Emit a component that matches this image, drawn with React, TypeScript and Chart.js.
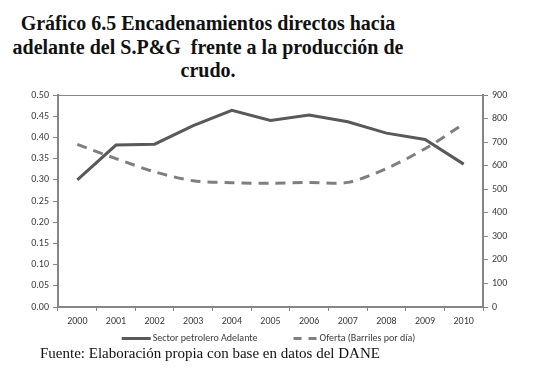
import React, { useEffect, useRef } from "react";
import { Chart, registerables } from "chart.js";

Chart.register(...registerables);

const years = ["2000", "2001", "2002", "2003", "2004", "2005", "2006", "2007", "2008", "2009", "2010"];
const sectorAdelante = [0.3, 0.382, 0.384, 0.428, 0.464, 0.44, 0.453, 0.437, 0.41, 0.395, 0.337];
const ofertaBarriles = [690, 630, 574, 536, 528, 525, 529, 529, 588, 672, 777];
const seriesNames = ["Sector petrolero Adelante", "Oferta (Barriles por día)"];
const titleLines = ["Gráfico 6.5 Encadenamientos directos hacia", "adelante del S.P&G  frente a la producción de", "crudo."];
const sourceText = "Fuente: Elaboración propia con base en datos del DANE";

const AXIS = "#868686";
const TICK_TEXT = "#3a3a3a";
const SANS = "Carlito, 'Liberation Sans', Arial, sans-serif";

const frameTop = {
  id: "frameTop",
  afterDatasetsDraw(chart: any) {
    const { ctx, chartArea } = chart;
    ctx.save();
    ctx.strokeStyle = AXIS;
    ctx.lineWidth = 1;
    ctx.beginPath();
    ctx.moveTo(chartArea.left, chartArea.top + 0.5);
    ctx.lineTo(chartArea.right, chartArea.top + 0.5);
    ctx.stroke();
    ctx.restore();
  },
};

// Excel-style legend: line sample + text, laid out under the plot area
const excelLegend = {
  id: "excelLegend",
  afterDraw(chart: any) {
    const { ctx, chartArea } = chart;
    const ds = chart.data.datasets;
    ctx.save();
    ctx.font = `10px ${SANS}`;
    ctx.textBaseline = "middle";
    ctx.fillStyle = TICK_TEXT;
    const sampleW = [29, 23];
    const textGap = [2, 3];
    const itemGap = 36;
    const widths = ds.map((d: any, i: number) => sampleW[i] + textGap[i] + ctx.measureText(d.label).width);
    const total = widths.reduce((a: number, b: number) => a + b, 0) + itemGap * (ds.length - 1);
    let x = (chartArea.left + chartArea.right) / 2 - 2 - total / 2;
    const y = chartArea.bottom + 31.5;
    ds.forEach((d: any, i: number) => {
      ctx.strokeStyle = d.borderColor;
      ctx.lineWidth = 3;
      ctx.setLineDash(d.borderDash ? [8, 7] : []);
      ctx.beginPath();
      ctx.moveTo(x, y);
      ctx.lineTo(x + sampleW[i], y);
      ctx.stroke();
      ctx.setLineDash([]);
      ctx.fillText(d.label, x + sampleW[i] + textGap[i], y);
      x += widths[i] + itemGap;
    });
    ctx.restore();
  },
};

export default function App() {
  const ref = useRef<HTMLCanvasElement | null>(null);

  useEffect(() => {
    if (!ref.current) return;
    const chart = new Chart(ref.current, {
      type: "line",
      data: {
        labels: years,
        datasets: [
          {
            label: seriesNames[0],
            data: sectorAdelante,
            yAxisID: "y",
            borderColor: "#595959",
            backgroundColor: "#595959",
            borderWidth: 3,
            pointRadius: 0,
            tension: 0,
          },
          {
            label: seriesNames[1],
            data: ofertaBarriles,
            yAxisID: "y1",
            borderColor: "#7f7f7f",
            backgroundColor: "#7f7f7f",
            borderWidth: 3,
            borderDash: [10, 7],
            pointRadius: 0,
            tension: 0.3,
          },
        ],
      },
      options: {
        animation: false,
        responsive: false,
        maintainAspectRatio: false,
        layout: { padding: { top: 7, left: 0, right: 0, bottom: 16 } },
        plugins: {
          title: { display: false },
          tooltip: { enabled: false },
          legend: { display: false },
        },
        scales: {
          x: {
            type: "category",
            offset: true,
            grid: {
              display: true,
              drawOnChartArea: false,
              drawTicks: true,
              tickLength: 4,
              color: AXIS,
              offset: true,
            },
            border: { display: true, color: AXIS, width: 2 },
            ticks: { color: TICK_TEXT, font: { family: SANS, size: 10 }, padding: 4, maxRotation: 0 },
            afterFit(scale: any) {
              scale.height = 24;
            },
          },
          y: {
            position: "left",
            min: 0,
            max: 0.5,
            ticks: {
              stepSize: 0.05,
              color: TICK_TEXT,
              font: { family: SANS, size: 10 },
              padding: 4,
              callback: (v: any) => Number(v).toFixed(2),
            },
            grid: { drawOnChartArea: false, drawTicks: true, tickLength: 5, color: AXIS },
            border: { display: true, color: AXIS, width: 2 },
            afterFit(scale: any) {
              scale.width = 58;
            },
          },
          y1: {
            position: "right",
            min: 0,
            max: 900,
            ticks: { stepSize: 100, color: TICK_TEXT, font: { family: SANS, size: 10 }, padding: 4 },
            grid: { drawOnChartArea: false, drawTicks: true, tickLength: 5, color: AXIS },
            border: { display: true, color: AXIS, width: 2 },
            afterFit(scale: any) {
              scale.width = 56;
            },
          },
        },
      },
      plugins: [frameTop, excelLegend],
    });
    return () => chart.destroy();
  }, []);

  return (
    <div style={{ position: "fixed", left: 0, top: 0, width: 539, height: 389, background: "#fff", overflow: "hidden" }}>
      <div
        style={{
          position: "absolute",
          left: 8,
          top: 12,
          width: 400,
          textAlign: "center",
          fontFamily: "'Liberation Serif', 'Times New Roman', serif",
          fontWeight: "bold",
          fontSize: 20,
          lineHeight: "23.5px",
          color: "#111",
          whiteSpace: "pre",
        }}
      >
        {titleLines.map((l, i) => (
          <div key={i}>{l}</div>
        ))}
      </div>
      <canvas ref={ref} width={539} height={262} style={{ position: "absolute", left: 0, top: 85, width: 539, height: 262 }} />
      <div
        style={{
          position: "absolute",
          left: 40,
          top: 345,
          fontFamily: "'Liberation Serif', 'Times New Roman', serif",
          fontSize: 15,
          color: "#111",
          whiteSpace: "pre",
        }}
      >
        {sourceText}
      </div>
    </div>
  );
}
